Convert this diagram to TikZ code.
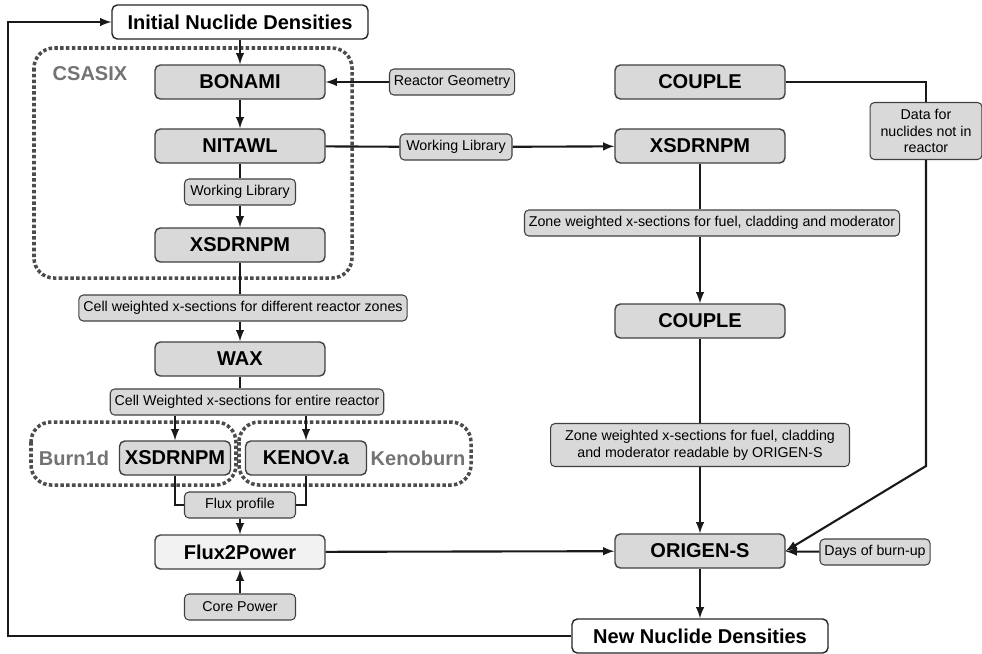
\documentclass[tikz,border=0pt]{standalone}
\usepackage{fontspec}
\setmainfont{Liberation Sans}
\tikzset{
  prog/.style={draw=black!75, fill=black!15, rounded corners=3pt, line width=0.8pt,
    minimum width=3.4cm, minimum height=0.68cm, inner sep=1pt,
    font=\bfseries\fontsize{11.4}{12}\selectfont},
  dens/.style={prog, fill=white, draw=black!85, minimum width=5.12cm},
  dat/.style={draw=black!75, fill=black!15, rounded corners=2.5pt, line width=0.6pt,
    minimum height=0.52cm, inner xsep=2.5pt, inner ysep=1pt,
    font=\fontsize{8.1}{9.6}\selectfont},
  grp/.style={draw=black!70, line width=2pt, dash pattern=on 2pt off 1.3pt, rounded corners=0.4cm},
  grplabel/.style={text=black!55, font=\bfseries\fontsize{11.4}{12}\selectfont},
  flow/.style={line width=1.2pt, draw=black!90}
}
\begin{document}
\begin{tikzpicture}[x=0.02cm, y=-0.02cm, >=latex]
      \useasboundingbox (0,0) rectangle (982,653);
      % groups
      \draw[grp] (34,48) rectangle (352,278);
      \node[grplabel] (csasix) at (90,74) {CSASIX};
      \draw[grp] (31,422) rectangle (236,485);
      \draw[grp] (239,422) rectangle (471,485);
      \node[grplabel] (burn) at (74,458) {Burn1d};
      \node[grplabel] (keno) at (418,458) {Kenoburn};
      % left column
      \node[dens] (initial) at (240,22) {Initial Nuclide Densities};
      \node[prog] (bonami) at (240,82) {BONAMI};
      \node[dat] (geom) at (452,82) {Reactor Geometry};
      \node[prog] (nitawl) at (240,146) {NITAWL};
      \node[dat, minimum width=2.22cm] (libL) at (240,192) {Working Library};
      \node[prog] (xsdrL) at (240,245) {XSDRNPM};
      \node[dat] (zonesL) at (243,308) {Cell weighted x-sections for different reactor zones};
      \node[prog] (wax) at (240,359) {WAX};
      \node[dat] (entire) at (247,402) {Cell Weighted x-sections for entire reactor};
      \node[prog, minimum width=2.22cm] (burnXS) at (175,458) {XSDRNPM};
      \node[prog, minimum width=2.42cm] (kenoXS) at (306,458) {KENOV.a};
      \node[dat, minimum width=2.22cm] (flux) at (240,505) {Flux profile};
      \node[prog, fill=black!5] (f2p) at (240,552) {Flux2Power};
      \node[dat, minimum width=2.22cm] (core) at (240,607) {Core Power};
      % right column
      \node[prog] (coupleA) at (700,82) {COUPLE};
      \node[dat, minimum width=2.24cm] (libR) at (456,147) {Working Library};
      \node[prog] (xsdrR) at (700,146) {XSDRNPM};
      \node[dat] (zonesR) at (712,223) {Zone weighted x-sections for fuel, cladding and moderator};
      \node[prog] (coupleB) at (700,321) {COUPLE};
      \node[dat, align=center, minimum width=2.24cm, minimum height=1.14cm] (nodata) at (926,131)
        {Data for\\nuclides not in\\reactor};
      \node[dat, align=center, minimum width=5.98cm, minimum height=0.86cm] (readable) at (700,445)
        {Zone weighted x-sections for fuel, cladding\\and moderator readable by ORIGEN-S};
      \node[prog] (origen) at (700,551) {ORIGEN-S};
      \node[dat] (days) at (875,552) {Days of burn-up};
      \node[dens] (newnd) at (700,636) {New Nuclide Densities};
      % connectors
      \draw[flow, ->] (initial) -- (bonami);
      \draw[flow, ->] (geom) -- (bonami);
      \draw[flow, ->] (bonami) -- (nitawl);
      \draw[flow] (nitawl) -- (libL);
      \draw[flow, ->] (libL) -- (xsdrL);
      \draw[flow] (nitawl) -- (libR);
      \draw[flow, ->] (libR) -- (xsdrR);
      \draw[flow] (xsdrL) -- (xsdrL |- zonesL.north);
      \draw[flow, ->] (wax |- zonesL.south) -- (wax);
      \draw[flow] (wax) -- (wax |- entire.north);
      \draw[flow, ->] (burnXS |- entire.south) -- (burnXS);
      \draw[flow, ->] (kenoXS |- entire.south) -- (kenoXS);
      \draw[flow] (burnXS) |- (flux);
      \draw[flow] (kenoXS) |- (flux);
      \draw[flow, ->] (flux) -- (f2p);
      \draw[flow, ->] (core) -- (f2p);
      \draw[flow, ->] (f2p) -- (origen);
      \draw[flow] (xsdrR) -- (xsdrR |- zonesR.north);
      \draw[flow, ->] (coupleB |- zonesR.south) -- (coupleB);
      \draw[flow] (coupleB) -- (readable);
      \draw[flow, ->] (readable) -- (origen);
      \draw[flow] (coupleA) -| (nodata);
      \coordinate (bend) at (926,466);
      \draw[flow, ->] (nodata) -- (bend) -- (origen.east);
      \draw[flow, ->] (days) -- (origen);
      \draw[flow, ->] (origen) -- (newnd);
      % back to the start
      \coordinate (loop) at (8,636);
      \draw[flow, ->] (newnd) -- (loop) |- (initial);
\end{tikzpicture}
\end{document}
